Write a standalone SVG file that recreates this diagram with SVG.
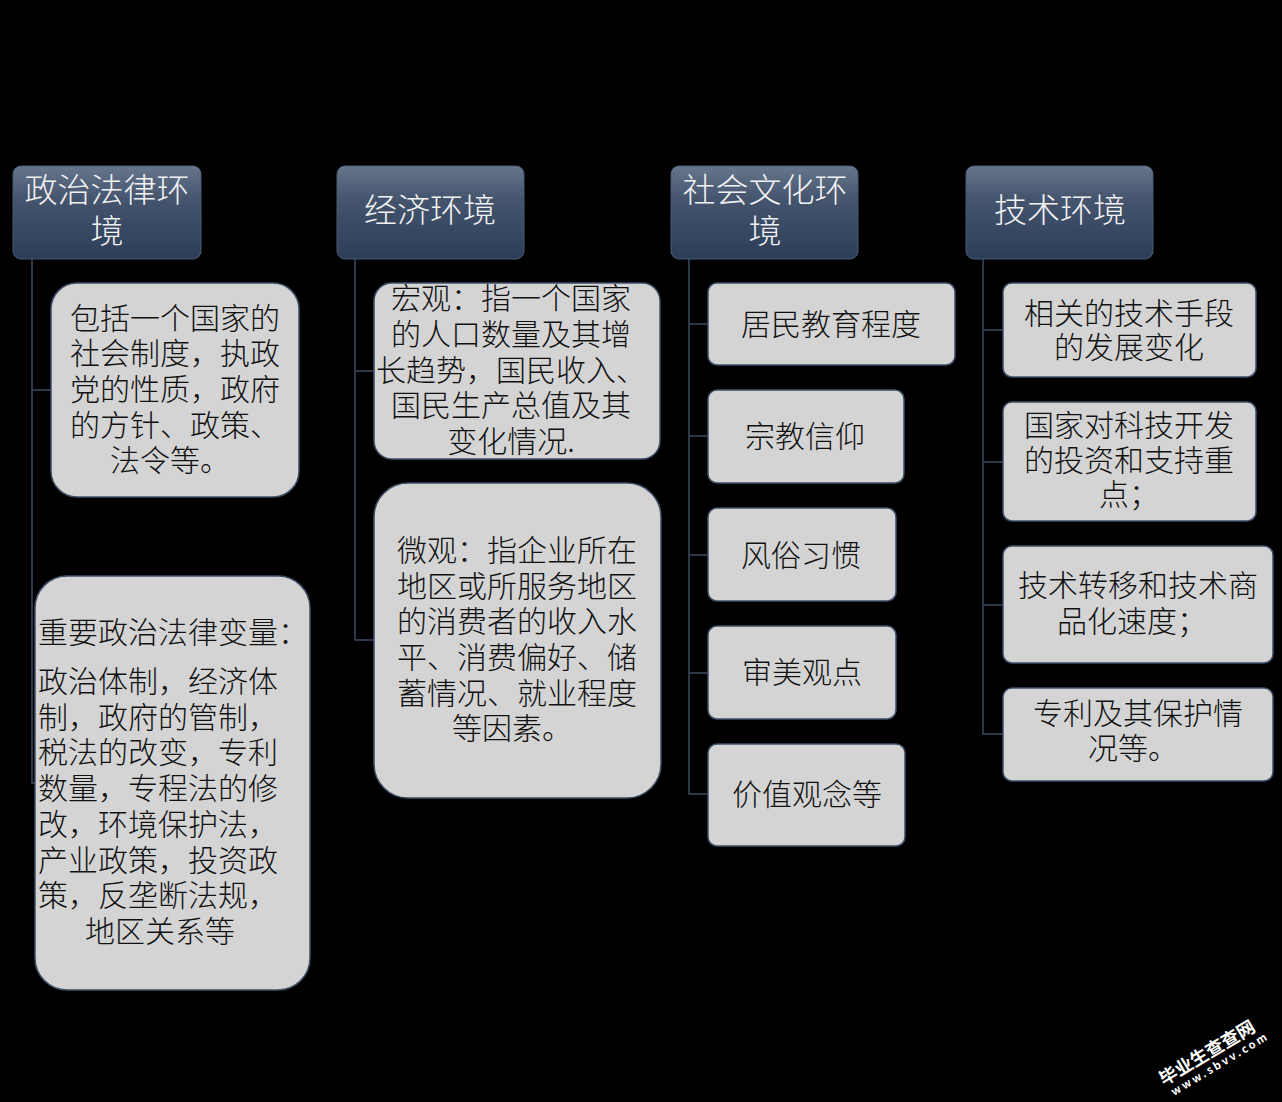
<svg xmlns="http://www.w3.org/2000/svg" width="1282" height="1102" viewBox="0 0 1282 1102">
<style>
.hdr{stroke:#4a5a72;stroke-width:1}
.box{fill:#d4d4d4;stroke:#3e4f68;stroke-width:1.5}
.ht{font-family:"Noto Sans CJK SC","Liberation Serif",serif;font-size:33px;fill:#f2f2f2;text-anchor:middle;font-weight:300}
.bt{font-family:"Noto Sans CJK SC","Liberation Serif",serif;font-size:30px;fill:#111;text-anchor:middle;font-weight:300}
.lt{text-anchor:start}
.con{fill:none;stroke:#3b4b63;stroke-width:1.5}
.wm{font-family:"Noto Sans CJK SC","DejaVu Sans",sans-serif;fill:#fff;font-weight:bold}
</style>
<defs>
<linearGradient id="hg" x1="0" y1="0" x2="0" y2="1">
<stop offset="0" stop-color="#66768c"/>
<stop offset="0.35" stop-color="#45556e"/>
<stop offset="1" stop-color="#2c3d58"/>
</linearGradient>
</defs>
<rect width="1282" height="1102" fill="#000"/>
<g id="connectors">
<path class="con" d="M32 259V783H35M32 390H51"/>
<path class="con" d="M355 259V640H374M355 371H374"/>
<path class="con" d="M689 259V794H708M689 324H708M689 436H708M689 555H708M689 673H708"/>
<path class="con" d="M983 259V734H1003M983 330H1003M983 462H1003M983 605H1003"/>
</g>
<g id="h1"><rect class="hdr" x="13" y="166" width="188" height="93" rx="8" fill="url(#hg)"/>
<text class="ht"><tspan x="107" y="202">政治法律环</tspan><tspan x="107" y="243">境</tspan></text></g>
<g id="h2"><rect class="hdr" x="337" y="166" width="187" height="93" rx="8" fill="url(#hg)"/>
<text class="ht" x="430" y="222">经济环境</text></g>
<g id="h3"><rect class="hdr" x="671" y="166" width="187" height="93" rx="8" fill="url(#hg)"/>
<text class="ht"><tspan x="765" y="202">社会文化环</tspan><tspan x="765" y="243">境</tspan></text></g>
<g id="h4"><rect class="hdr" x="966" y="166" width="187" height="93" rx="8" fill="url(#hg)"/>
<text class="ht" x="1060" y="222">技术环境</text></g>

<g id="a1"><rect class="box" x="51" y="283" width="248" height="214" rx="26"/>
<text class="bt"><tspan x="175" y="329">包括一个国家的</tspan><tspan x="175" y="364">社会制度，执政</tspan><tspan x="175" y="400">党的性质，政府</tspan><tspan x="175" y="436">的方针、政策、</tspan><tspan x="170" y="471">法令等。</tspan></text></g>
<g id="a2"><rect class="box" x="35" y="576" width="275" height="414" rx="32"/>
<text class="bt lt"><tspan x="38" y="643">重要政治法律变量：</tspan><tspan x="38" y="692">政治体制，经济体</tspan><tspan x="38" y="728">制，政府的管制，</tspan><tspan x="38" y="763">税法的改变，专利</tspan><tspan x="38" y="799">数量，专程法的修</tspan><tspan x="38" y="835">改，环境保护法，</tspan><tspan x="38" y="871">产业政策，投资政</tspan><tspan x="38" y="906">策，反垄断法规，</tspan><tspan x="85" y="942">地区关系等</tspan></text></g>

<g id="b1"><rect class="box" x="374" y="283" width="286" height="176" rx="18"/>
<text class="bt"><tspan x="511" y="309">宏观：指一个国家</tspan><tspan x="511" y="345">的人口数量及其增</tspan><tspan x="511" y="381">长趋势，国民收入、</tspan><tspan x="511" y="416">国民生产总值及其</tspan><tspan x="511" y="452">变化情况.</tspan></text></g>
<g id="b2"><rect class="box" x="374" y="483" width="287" height="315" rx="34"/>
<text class="bt"><tspan x="517" y="561">微观：指企业所在</tspan><tspan x="517" y="597">地区或所服务地区</tspan><tspan x="517" y="632">的消费者的收入水</tspan><tspan x="517" y="668">平、消费偏好、储</tspan><tspan x="517" y="704">蓄情况、就业程度</tspan><tspan x="512" y="739">等因素。</tspan></text></g>

<g id="c1"><rect class="box" x="708" y="283" width="247" height="82" rx="9"/><text class="bt" x="831" y="335">居民教育程度</text></g>
<g id="c2"><rect class="box" x="708" y="390" width="196" height="93" rx="9"/><text class="bt" x="805" y="447">宗教信仰</text></g>
<g id="c3"><rect class="box" x="708" y="508" width="188" height="93" rx="9"/><text class="bt" x="801" y="566">风俗习惯</text></g>
<g id="c4"><rect class="box" x="708" y="626" width="188" height="93" rx="9"/><text class="bt" x="802" y="683">审美观点</text></g>
<g id="c5"><rect class="box" x="708" y="744" width="197" height="102" rx="9"/><text class="bt" x="807" y="805">价值观念等</text></g>

<g id="d1"><rect class="box" x="1003" y="283" width="253" height="94" rx="9"/>
<text class="bt"><tspan x="1129" y="324">相关的技术手段</tspan><tspan x="1129" y="358">的发展变化</tspan></text></g>
<g id="d2"><rect class="box" x="1003" y="402" width="253" height="119" rx="9"/>
<text class="bt"><tspan x="1129" y="436">国家对科技开发</tspan><tspan x="1129" y="471">的投资和支持重</tspan><tspan x="1129" y="505">点；</tspan></text></g>
<g id="d3"><rect class="box" x="1003" y="546" width="270" height="117" rx="9"/>
<text class="bt"><tspan x="1138" y="596">技术转移和技术商</tspan><tspan x="1132" y="632">品化速度；</tspan></text></g>
<g id="d4"><rect class="box" x="1003" y="688" width="270" height="93" rx="9"/>
<text class="bt"><tspan x="1138" y="724">专利及其保护情</tspan><tspan x="1133" y="759">况等。</tspan></text></g>

<g id="watermark">
<text class="wm" x="1164" y="1086" font-size="18" transform="rotate(-31 1164 1086)">毕业生查查网</text>
<text class="wm" x="1174" y="1096" font-size="11" font-weight="normal" transform="rotate(-31 1174 1096)" letter-spacing="2.5">www.sbvv.com</text>
</g>
</svg>
